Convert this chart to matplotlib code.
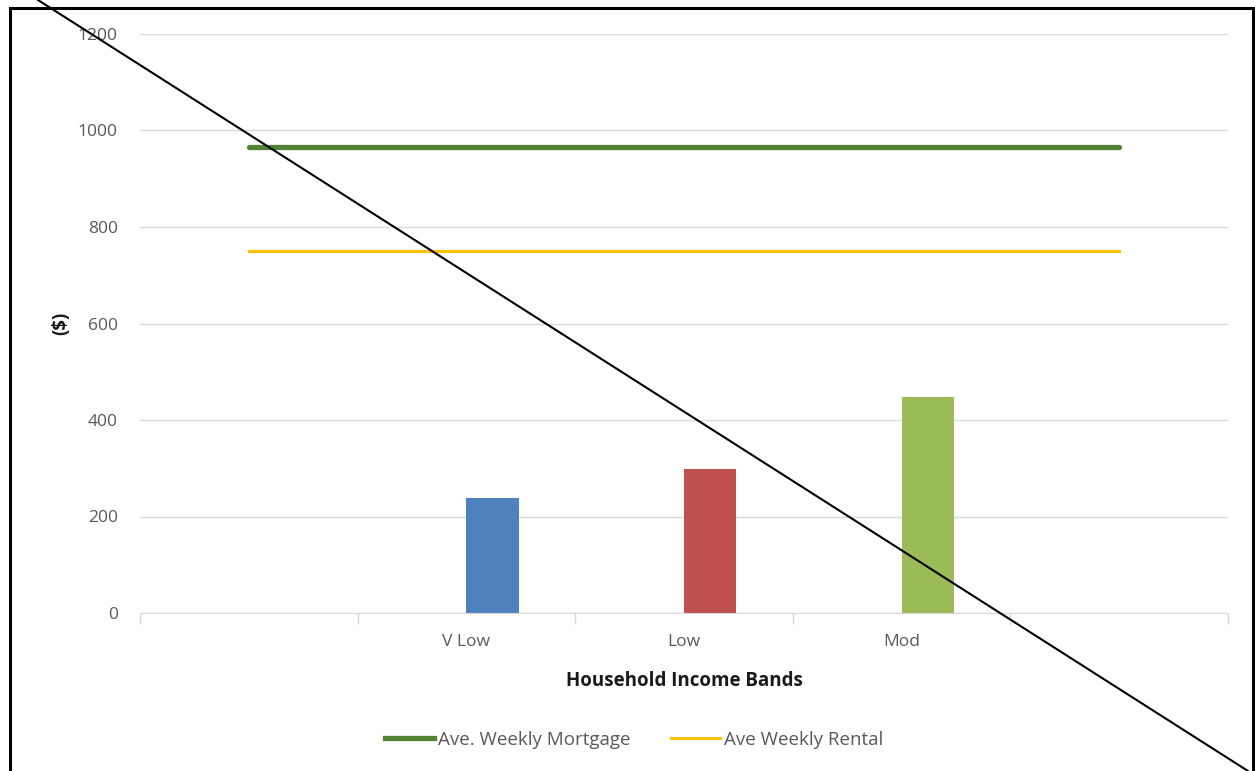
import matplotlib
matplotlib.use("Agg")
import matplotlib.pyplot as plt
from matplotlib.lines import Line2D
from matplotlib.patches import Rectangle

# category slots on the x axis (first and last are empty)
categories = ["", "V Low", "Low", "Mod", ""]
bar_values = [None, 238, 298, 448, None]
bar_colors = ["#4F81BD", "#C0504D", "#9BBB59"]
mortgage = [966, 966, 966, 966, 966]
rental = [750, 750, 750, 750, 750]
y_ticks = [0, 200, 400, 600, 800, 1000, 1200]

plt.rcParams["font.family"] = ["Open Sans", "DejaVu Sans"]

fig = plt.figure(figsize=(12.55, 7.71), dpi=100)
ax = fig.add_axes([140 / 1255, 1 - 613 / 771, (1228 - 140) / 1255, (613 - 34) / 771])

x = list(range(len(categories)))
bx = [i for i, v in zip(x, bar_values) if v is not None]
bv = [v for v in bar_values if v is not None]
# bars sit just right of the category centre (Excel cluster slot)
ax.bar(bx, bv, width=0.24, align="edge", color=bar_colors, zorder=2)

ax.plot(x, mortgage, color="#548235", lw=3.8, solid_capstyle="round", zorder=3)
ax.plot(x, rental, color="#FFC000", lw=2.2, zorder=3)

ax.set_xlim(-0.5, 4.5)
ax.set_ylim(0, 1200)
ax.set_yticks(y_ticks)
ax.set_yticklabels([str(t) for t in y_ticks])
ax.set_xticks(x)
ax.set_xticklabels(categories)
# boundary tick marks between categories
ax.set_xticks([i - 0.5 for i in range(len(categories) + 1)], minor=True)
ax.tick_params(axis="x", which="major", length=0, pad=15, labelsize=12.5, labelcolor="#595959")
ax.tick_params(axis="x", which="minor", length=8, color="#D9D9D9", width=1)
ax.tick_params(axis="y", length=0, pad=16, labelsize=12.5, labelcolor="#595959")

ax.grid(axis="y", color="#D9D9D9", lw=1, zorder=0)
for s in ["top", "right", "left"]:
    ax.spines[s].set_visible(False)
ax.spines["bottom"].set_color("#D9D9D9")

ax.set_xlabel("Household Income Bands", fontsize=13.5, fontweight="bold", color="#1a1a1a", labelpad=15)
ax.set_ylabel("($)", fontsize=13.5, fontweight="bold", color="#1a1a1a", labelpad=5)

handles = [Line2D([], [], color="#548235", lw=3.8),
           Line2D([], [], color="#FFC000", lw=2.2)]
fig.legend(handles, ["Ave. Weekly Mortgage", "Ave Weekly Rental"],
           loc="center", bbox_to_anchor=(634 / 1255, 1 - 740 / 771), ncol=2,
           frameon=False, fontsize=13.5, labelcolor="#595959",
           handlelength=2.6, handletextpad=0.2, columnspacing=2.2)

# outer black frame and the diagonal strike line
fig.patches.append(Rectangle((9.5 / 1255, -0.05), (1253 - 9.5) / 1255, 1.05 - 8 / 771,
                             transform=fig.transFigure, fill=False, ec="black", lw=2.2))
fig.lines.append(Line2D([38 / 1255, 1248 / 1255], [1.0, 0.0], transform=fig.transFigure,
                        color="black", lw=1.5))

fig.savefig("out.png", dpi=100)
